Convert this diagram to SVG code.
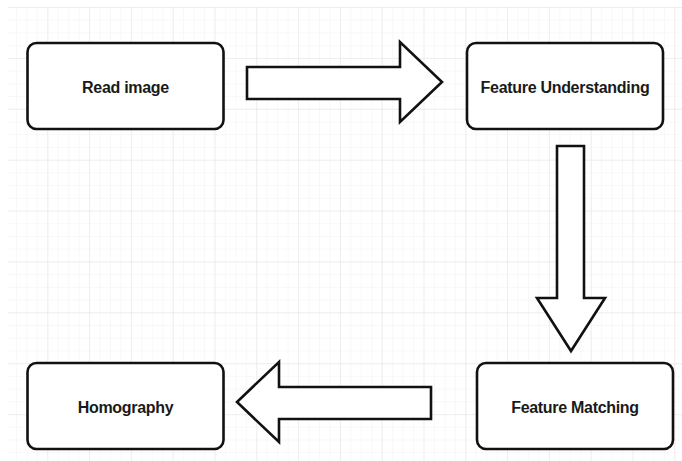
<svg xmlns="http://www.w3.org/2000/svg" width="682" height="461" viewBox="0 0 682 461">
  <defs>
    <pattern id="minor" x="5.5" y="7" width="10.45" height="12.72" patternUnits="userSpaceOnUse">
      <path d="M0 0V12.72M0 0H10.45" fill="none" stroke="#f1f1f1" stroke-width="1"/>
    </pattern>
    <pattern id="major" x="5.5" y="7" width="41.8" height="50.9" patternUnits="userSpaceOnUse">
      <path d="M0 0V50.9M0 0H41.8" fill="none" stroke="#e4e4e4" stroke-width="1"/>
    </pattern>
  </defs>
  <style>
    .box { fill: #ffffff; stroke: #111111; stroke-width: 2.6; }
    .arrow { fill: #ffffff; stroke: #111111; stroke-width: 2.6; stroke-linejoin: miter; }
    .label { font-family: "Liberation Sans", Arial, sans-serif; font-size: 16px; font-weight: bold; fill: #1a1a1a; text-anchor: middle; dominant-baseline: central; letter-spacing: -0.3px; }
  </style>
  <rect width="682" height="461" fill="#ffffff"/>
  <rect x="8" y="7" width="674" height="454" fill="url(#minor)"/>
  <rect x="8" y="7" width="674" height="454" fill="url(#major)"/>

  <g id="connectors">
    <path class="arrow" d="M247 67H400V42L442 82L400 122V99H247Z"/>
    <path class="arrow" d="M557 146H584V298H605L571 351L537 298H557Z"/>
    <path class="arrow" d="M431 387H279V362L237 402L279 442V419H431Z"/>
  </g>

  <g id="node-read-image">
    <rect class="box" x="27.5" y="43" width="196" height="86" rx="9"/>
    <text class="label" x="125.5" y="87">Read image</text>
  </g>
  <g id="node-feature-understanding">
    <rect class="box" x="467" y="43" width="196" height="86" rx="9"/>
    <text class="label" x="565" y="87">Feature Understanding</text>
  </g>
  <g id="node-feature-matching">
    <rect class="box" x="477" y="363" width="196" height="86" rx="9"/>
    <text class="label" x="575" y="407">Feature Matching</text>
  </g>
  <g id="node-homography">
    <rect class="box" x="27.5" y="363" width="196" height="86" rx="9"/>
    <text class="label" x="125.5" y="407">Homography</text>
  </g>
</svg>
